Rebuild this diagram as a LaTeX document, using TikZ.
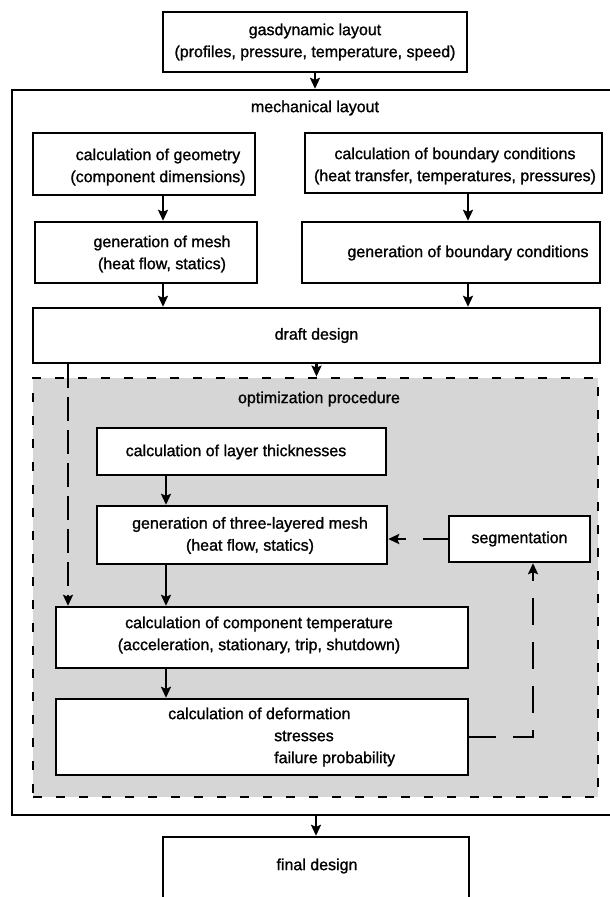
\documentclass[tikz,border=0pt]{standalone}
\usepackage{fontspec}
\setmainfont{Liberation Sans}[FakeBold=1.2]
\usetikzlibrary{arrows.meta,calc}
\begin{document}
\begin{tikzpicture}[x=1pt,y=-1pt,
  every node/.style={font=\fontsize{16}{22}\selectfont},
  bx/.style={draw,line width=2.4pt,fill=white,inner sep=0pt,rectangle,align=center},
  txt/.style={align=center,inner sep=0pt},
  arr/.style={line width=2.2pt,-{Stealth[length=11pt,width=10pt,inset=2pt]}},
  dsh/.style={line width=2.4pt,-{Stealth[length=11pt,width=10pt,inset=2pt]}}
]
\useasboundingbox (0,0) rectangle (610,897);
\clip (0,0) rectangle (610,897);
% outer frame
\node[bx,fill=none,minimum width=600pt,minimum height=725pt] (big) at (312,452.5) {};
\node[txt] (mechlbl) at (315,108) {mechanical layout};
% optimization area
\node[draw,line width=2.8pt,dash pattern=on 9pt off 14pt,fill=black!16,inner sep=0pt,
      minimum width=565pt,minimum height=419pt] (opt) at (315.5,587.5) {};
\node[txt] (optlbl) at (319,399) {optimization procedure};
% helper coordinates
\coordinate (lc) at (163,0);
\coordinate (rc) at (468,0);
\coordinate (sp) at (166,0);
\coordinate (ld) at (68,0);
\coordinate (rd) at (533,0);
% boxes
\node[bx,minimum width=304pt,minimum height=60pt] (gas) at (315,42)
  {gasdynamic layout\\(profiles, pressure, temperature, speed)};
\node[bx,minimum width=222pt,minimum height=62pt] (geom) at (144,164) {};
\node[txt] (geomt) at (158,167) {calculation of geometry\\(component dimensions)};
\node[bx,minimum width=222pt,minimum height=61pt] (mesh) at (146,252.5) {};
\node[txt] (mesht) at (162,254) {generation of mesh\\(heat flow, statics)};
\node[bx,minimum width=297pt,minimum height=60pt] (bound) at (453.5,163) {};
\node[txt] (boundt) at (455,166) {calculation of boundary conditions\\(heat transfer, temperatures, pressures)};
\node[bx,minimum width=298pt,minimum height=61pt] (gbound) at (451,252.5) {};
\node[txt] (gboundt) at (468,253) {generation of boundary conditions};
\node[bx,minimum width=567pt,minimum height=55pt] (draft) at (316.5,335.5) {draft design};
\node[bx,minimum width=289pt,minimum height=47pt] (layer) at (241.5,451.5) {};
\node[txt] (layert) at (236,452) {calculation of layer thicknesses};
\node[bx,minimum width=290pt,minimum height=58pt] (gen3) at (242,535) {};
\node[txt] (gen3t) at (250,535.5) {generation of three-layered mesh\\(heat flow, statics)};
\node[bx,minimum width=141pt,minimum height=46pt] (seg) at (519.5,539) {segmentation};
\node[bx,minimum width=412pt,minimum height=61pt] (temp) at (262,637.5) {};
\node[txt] (tempt) at (259,635) {calculation of component temperature\\(acceleration, stationary, trip, shutdown)};
\node[bx,minimum width=412pt,minimum height=76pt] (deform) at (262,737) {};
\node[txt,align=left,anchor=west] (deformt) at (168,737)
  {calculation of deformation\\\hspace*{106pt}stresses\\\hspace*{106pt}failure probability};
\node[bx,minimum width=306pt,minimum height=68pt] (final) at (316,871) {};
\node[txt] (finalt) at (317,866) {final design};
% connectors
\draw[arr] (gas.south) -- (gas.south |- big.north);
\draw[arr] (geom.south -| lc) -- (mesh.north -| lc);
\draw[arr] (bound.south -| rc) -- (gbound.north -| rc);
\draw[arr] (mesh.south -| lc) -- (draft.north -| lc);
\draw[arr] (gbound.south -| rc) -- (draft.north -| rc);
\draw[arr] (draft.south) -- (opt.north -| draft.south);
\draw[arr] (layer.south -| sp) -- (gen3.north -| sp);
\draw[arr] (gen3.south -| sp) -- (temp.north -| sp);
\draw[arr] (temp.south -| sp) -- (deform.north -| sp);
\draw[dsh,dash pattern=on 24pt off 9pt] (draft.south -| ld) -- (temp.north -| ld);
\draw[dsh,dash pattern=on 25pt off 17pt] (seg.west) -- (seg.west -| gen3.east);
\draw[dsh,dash pattern=on 27pt off 17pt] (deform.east) -- (deform.east -| rd) -- (seg.south -| rd);
\draw[arr] (big.south -| final.north) -- (final.north);
\end{tikzpicture}
\end{document}
